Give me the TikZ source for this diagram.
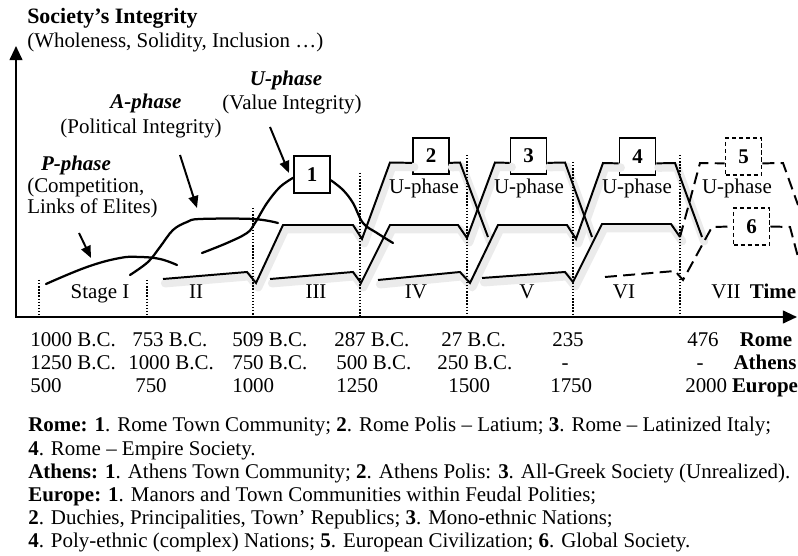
\documentclass[tikz,border=0pt]{standalone}
\usepackage{fontspec}
\setmainfont{Liberation Serif}
\usetikzlibrary{arrows.meta}
\newcommand\sz{\fontsize{14.9}{16.8}\selectfont}
\tikzset{
	axisline/.style={line width=1.5pt,{Triangle[length=10pt,width=9pt]}-{Triangle[length=10pt,width=9pt]}},
	hint/.style={line width=1.4pt,-{Triangle[length=8.5pt,width=7pt]}},
	bound/.style={line width=1pt,dash pattern=on 1pt off 1.2pt},
	growth/.style={line width=1.6pt,line cap=round},
	trend/.style={line width=1.4pt,line join=miter},
	glowline/.style={draw=black!8,line width=6pt,line join=round,line cap=round,
		transform canvas={shift={(1.5pt,-3pt)}}},
	future/.style={trend,dash pattern=on 8.5pt off 4.5pt},
	numbox/.style={draw,line width=1.3pt,minimum width=0.9cm,minimum height=0.92cm,
		inner sep=0pt,font=\sz\bfseries,fill=white},
	futbox/.style={numbox,dash pattern=on 3pt off 2pt},
	lab/.style={font=\sz,inner sep=0pt,anchor=base},
	phase/.style={lab,font=\sz\bfseries\itshape}}

\begin{document}
\begin{tikzpicture}[x=0.025cm,y=-0.025cm]
	\useasboundingbox (0,0) rectangle (798,556);
	% societies
	\node[numbox] (b1) at (312,174.5) {1};
	\node[numbox] (b2) at (431,156) {2};
	\node[numbox] (b3) at (528.5,156) {3};
	\node[numbox] (b4) at (637.5,156.5) {4};
	\node[futbox] (b5) at (743.5,156.5) {5};
	\node[futbox] (b6) at (751.5,226.5) {6};
	
	% cycles of integration
	\def\trA{(163,279) -- (247,272) -- (256,283) -- (283,225) -- (353,225)
		-- (362,239) -- (390,162.5) -- (b2.200) (b2.340) -- (460,162.5) -- (488,237)}
	\def\trB{(270,279) -- (353,272) -- (361,283) -- (390,225) -- (458,225)
		-- (467,238) -- (495,162.5) -- (b3.200) (b3.340) -- (565,162.5) -- (592,237)}
	\def\trC{(378,280) -- (460,272) -- (470,283) -- (498,225) -- (567,225)
		-- (576,239) -- (603,163) -- (b4.200) (b4.340) -- (675,163) -- (702,237)}
	\def\trD{(482,278) -- (565,272) -- (573,282) -- (602,224) -- (671,224) -- (680,237)}
	\foreach \p in {\trA,\trB,\trC,\trD}
		\draw[glowline] \p;
	\foreach \p in {\trA,\trB,\trC,\trD}
		\draw[trend] \p;
	\draw[future] (680,237) -- (700,163) -- (b5.200);
	\draw[future] (b5.340) -- (783,163) -- (798,205);
	\draw[future] (605,277) -- (675,271) -- (683,280) -- (712,227) -- (b6.west);
	\draw[future] (b6.east) -- (790,227) -- (798,257);
	
	% axes
	\coordinate (O) at (16,317);
	\coordinate (ytop) at (16,46);
	\coordinate (xend) at (797,317);
	\draw[axisline] (ytop) -- (O) -- (xend);
	\foreach \x/\t in {39/280,147/280,253/208,360/173,467/155,573/162,680/155}
		\draw[bound] (\x,\t) -- (\x,317);
	
	\node[lab,anchor=base west,font=\fontsize{15.6}{17}\selectfont\bfseries] (ytitle) at (27,24) {Society’s Integrity};
	\node[lab,anchor=base west] (ysub) at (27,48) {(Wholeness, Solidity, Inclusion …)};
	
	% phases of the first cycle
	\draw[growth] plot[smooth,tension=0.7] coordinates
		{(46,284) (87,267) (120,258) (140,257) (160,259) (177,265)};
	\draw[growth] plot[smooth,tension=0.6] coordinates
		{(130,275) (148,262) (160,247) (173,230) (187,222) (200,219) (253,219) (278,223)};
	\draw[growth] plot[smooth,tension=0.6] coordinates
		{(202,253) (227,243) (247,233) (255,223) (267,203) (280,187) (b1.190)};
	\draw[growth] plot[smooth,tension=0.6] coordinates
		{(b1.343) (343,190) (353,203) (363,223) (377,233) (393,243)};
	
	\node[phase] (uname) at (286,86) {U-phase};
	\node[lab] (uval) at (292,110) {(Value Integrity)};
	\node[phase] (aname) at (146,109) {A-phase};
	\node[lab] (aval) at (141,134) {(Political Integrity)};
	\node[phase] (pname) at (76,171) {P-phase};
	\node[lab,anchor=base west] (pval1) at (27,193) {(Competition,};
	\node[lab,anchor=base west] (pval2) at (27,214) {Links of Elites)};
	
	\coordinate (ptail) at (79,233);  \coordinate (ptip) at (91,258);
	\coordinate (atail) at (180,155); \coordinate (atip) at (197,208);
	\coordinate (utail) at (270,127); \coordinate (utip) at (289,173);
	\draw[hint] (ptail) -- (ptip);
	\draw[hint] (atail) -- (atip);
	\draw[hint] (utail) -- (utip);
	
	% stages
	\foreach \x/\s [count=\i] in {100/Stage I,196/II,316/III,416/IV,527/V,624/VI,726/VII}
		\node[lab] (st\i) at (\x,299) {\s};
	\node[lab,font=\sz\bfseries] (time) at (773,299) {Time};
	\foreach \x [count=\i] in {424,529,637,737}
		\node[lab] (up\i) at (\x,194) {U-phase};
	
	% dates
	\foreach \x/\d [count=\i] in {30/1000 B.C.,132/753 B.C.,232/509 B.C.,334/287 B.C.,
			441/27 B.C.,552/235,687/476}
		\node[lab,anchor=base west] (rome\i) at (\x,347) {\d};
	\foreach \x/\d [count=\i] in {30/1250 B.C.,128/1000 B.C.,232/750 B.C.,336/500 B.C.,437/250 B.C.}
		\node[lab,anchor=base west] (ath\i) at (\x,370) {\d};
	\node[lab] (ath6) at (565,370) {-};
	\node[lab] (ath7) at (700,370) {-};
	\foreach \x/\d [count=\i] in {30/500,135/750,232/1000,336/1250,448/1500,550/1750,685/2000}
		\node[lab,anchor=base west] (eur\i) at (\x,393) {\d};
	\node[lab,font=\sz\bfseries] (rome) at (766,347) {Rome};
	\node[lab,font=\sz\bfseries] (athens) at (765,370) {Athens};
	\node[lab,font=\sz\bfseries] (europe) at (765,393) {Europe};
	
	% legend
	\foreach \t [count=\i] in {
		{\textbf{Rome:} \textbf{1}. Rome Town Community; \textbf{2}. Rome Polis – Latium; \textbf{3}. Rome – Latinized Italy;},
		{\textbf{4}. Rome – Empire Society.},
		{\textbf{Athens:} \textbf{1}. Athens Town Community; \textbf{2}. Athens Polis: \textbf{3}. All-Greek Society (Unrealized).},
		{\textbf{Europe:} \textbf{1}. Manors and Town Communities within Feudal Polities;},
		{\textbf{2}. Duchies, Principalities, Town’ Republics; \textbf{3}. Mono-ethnic Nations;},
		{\textbf{4}. Poly-ethnic (complex) Nations; \textbf{5}. European Civilization; \textbf{6}. Global Society.}}
		\node[lab,anchor=base west] (leg\i) at (28,{432+23.2*(\i-1)}) {\t};
\end{tikzpicture}
\end{document}
